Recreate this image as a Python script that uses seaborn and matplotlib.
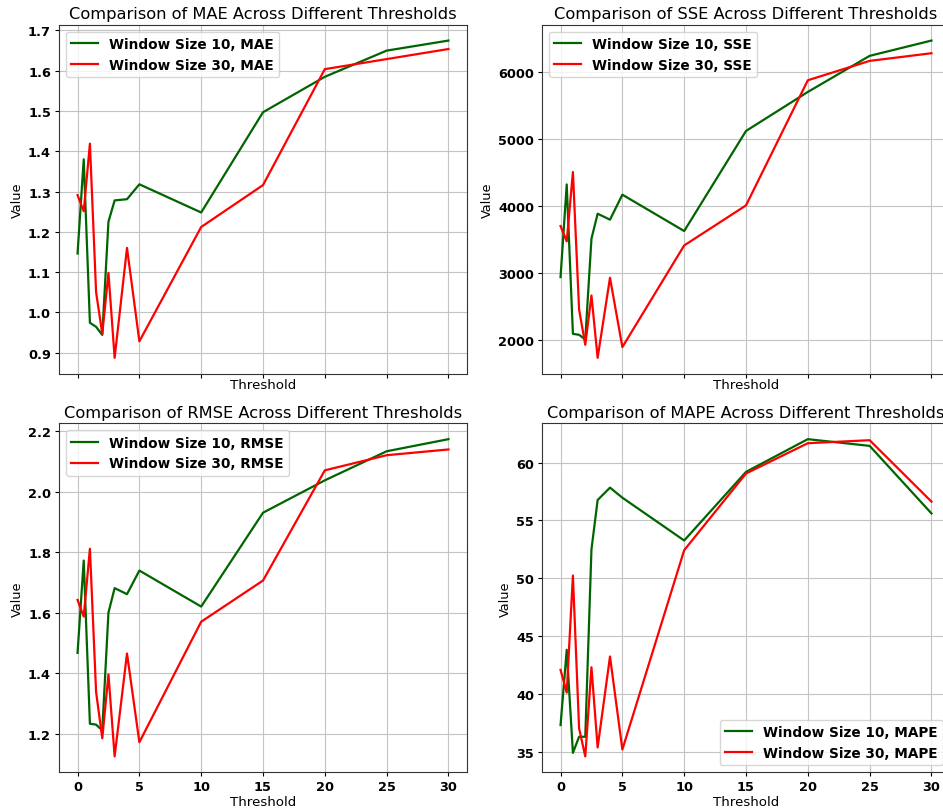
import matplotlib
matplotlib.use("Agg")
import matplotlib.pyplot as plt
import seaborn as sns
import pandas as pd

# Threshold values evaluated
thresholds = [0, 0.5, 1, 1.5, 2, 2.5, 3, 4, 5, 10, 15, 20, 25, 30]

# Error metrics for the two window sizes
mae_w10 = [1.146, 1.380, 0.974, 0.964, 0.944, 1.225, 1.278, 1.281, 1.318, 1.248, 1.497, 1.585, 1.650, 1.675]
mae_w30 = [1.291, 1.251, 1.419, 1.050, 0.947, 1.098, 0.887, 1.160, 0.928, 1.212, 1.316, 1.604, 1.629, 1.654]

sse_w10 = [2940, 4322, 2094, 2079, 2010, 3512, 3885, 3796, 4169, 3627, 5119, 5701, 6239, 6467]
sse_w30 = [3701, 3472, 4507, 2457, 1930, 2666, 1736, 2930, 1896, 3412, 4009, 5875, 6164, 6278]

rmse_w10 = [1.467, 1.772, 1.233, 1.230, 1.211, 1.600, 1.681, 1.661, 1.739, 1.620, 1.930, 2.037, 2.133, 2.173]
rmse_w30 = [1.642, 1.587, 1.811, 1.338, 1.185, 1.396, 1.125, 1.465, 1.172, 1.570, 1.706, 2.070, 2.120, 2.139]

mape_w10 = [37.30, 43.81, 34.90, 36.29, 36.29, 52.48, 56.76, 57.83, 56.96, 53.26, 59.19, 62.02, 61.44, 55.60]
mape_w30 = [42.07, 40.11, 50.23, 37.02, 34.59, 42.30, 35.37, 43.23, 35.19, 52.42, 59.05, 61.67, 61.93, 56.62]

metrics = ["MAE", "SSE", "RMSE", "MAPE"]
series = {
    "MAE": (mae_w10, mae_w30),
    "SSE": (sse_w10, sse_w30),
    "RMSE": (rmse_w10, rmse_w30),
    "MAPE": (mape_w10, mape_w30),
}
legend_loc = {"MAE": "upper left", "SSE": "upper left",
              "RMSE": "upper left", "MAPE": "lower right"}

plt.rcParams["font.family"] = ["DejaVu Sans"]
plt.rcParams["xtick.major.size"] = 2.8
plt.rcParams["ytick.major.size"] = 2.8
plt.rcParams["xtick.major.pad"] = 3
plt.rcParams["ytick.major.pad"] = 3
plt.rcParams["axes.linewidth"] = 0.8
plt.rcParams["axes.edgecolor"] = "#333333"

fig = plt.figure(figsize=(9.43, 8.12), dpi=100)
W, H = 943, 812
ax_w, ax_h = 408, 349
lefts = [59, 542]
tops = [25.7, 424.3]

axes = []
for r in range(2):
    for c in range(2):
        rect = [lefts[c] / W, 1 - (tops[r] + ax_h) / H, ax_w / W, ax_h / H]
        axes.append(fig.add_axes(rect))

for i, (ax, metric) in enumerate(zip(axes, metrics)):
    w10, w30 = series[metric]
    df = pd.DataFrame({"Threshold": thresholds, "w10": w10, "w30": w30})
    sns.lineplot(data=df, x="Threshold", y="w10", ax=ax, color="darkgreen",
                 linewidth=1.6, label=f"Window Size 10, {metric}")
    sns.lineplot(data=df, x="Threshold", y="w30", ax=ax, color="red",
                 linewidth=1.6, label=f"Window Size 30, {metric}")
    ax.set_title(f"Comparison of {metric} Across Different Thresholds",
                 fontsize=11.7, pad=4.5)
    ax.set_xlabel("Threshold", fontsize=9.6, labelpad=0 if i < 2 else 1)
    ax.set_ylabel("Value", fontsize=9.3, labelpad=3)
    ax.grid(True, color="#c4c4c4", linewidth=0.8)
    ax.set_xticks([0, 5, 10, 15, 20, 25, 30])
    for lab in ax.get_xticklabels() + ax.get_yticklabels():
        lab.set_fontweight("bold")
        lab.set_fontsize(9.3)
    ax.legend(loc=legend_loc[metric], prop={"weight": "bold", "size": 9.8})

# top row shares the threshold axis with the row below
for ax in axes[:2]:
    ax.tick_params(axis="x", labelbottom=False)

fig.savefig("out.png", dpi=100)
